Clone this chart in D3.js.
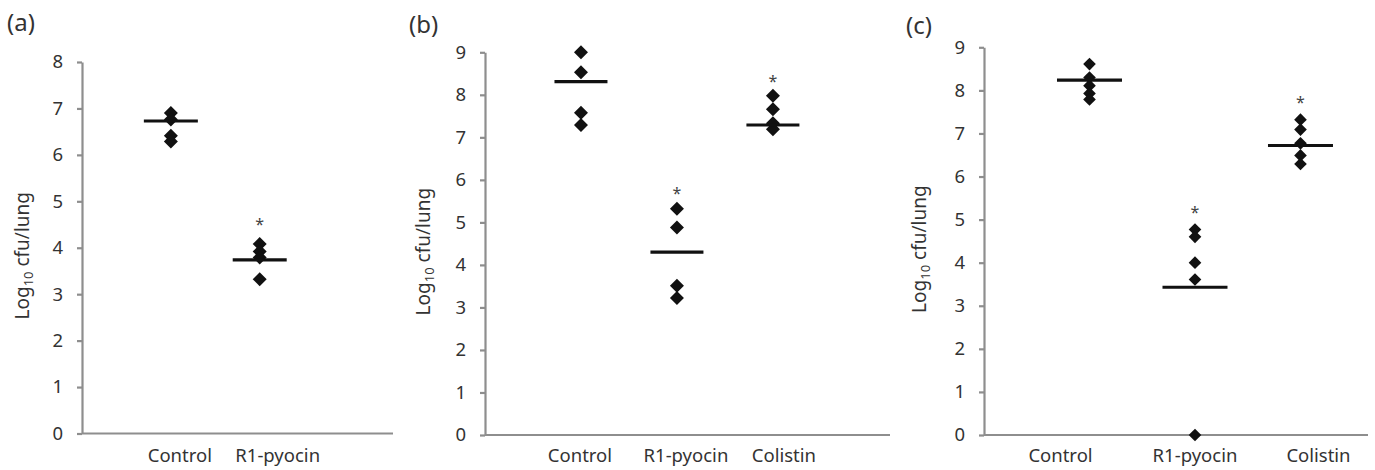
<!DOCTYPE html>
<html>
<head>
<meta charset="utf-8">
<script src="https://cdn.jsdelivr.net/npm/d3@7"></script>
<style>
  html, body { margin: 0; padding: 0; background: #fff; }
  svg text { font-family: "Noto Sans", "Open Sans", sans-serif; }
</style>
</head>
<body>
<svg id="chart" width="1375" height="470"></svg>
<script>
// ---------- DATA ----------
const panelLabels = ["(a)", "(b)", "(c)"];

const categoriesA = ["Control", "R1-pyocin"];
const pointsA = [[6.90, 6.76, 6.41, 6.29], [4.08, 3.92, 3.79, 3.32]];
const meansA = [6.73, 3.74];
const sigA = [null, 4.58];
const yTicksA = [0, 1, 2, 3, 4, 5, 6, 7, 8];

const categoriesB = ["Control", "R1-pyocin", "Colistin"];
const pointsB = [[9.00, 8.53, 7.58, 7.29], [5.32, 4.88, 3.51, 3.22], [7.98, 7.66, 7.33, 7.19]];
const meansB = [8.31, 4.30, 7.29];
const sigB = [null, 5.76, 8.39];
const yTicksB = [0, 1, 2, 3, 4, 5, 6, 7, 8, 9];

const categoriesC = ["Control", "R1-pyocin", "Colistin"];
const pointsC = [[8.61, 8.30, 8.11, 7.93, 7.79], [4.77, 4.60, 4.00, 3.61, 0], [7.32, 7.09, 6.77, 6.49, 6.29]];
const meansC = [8.24, 3.43, 6.72];
const sigC = [null, 5.24, 7.79];
const yTicksC = [0, 1, 2, 3, 4, 5, 6, 7, 8, 9];

// ---------- LAYOUT (pixels, not data) ----------
const layouts = [
  { x0: 82,  x1: 393,  yTopPx: 62,   yBotPx: 433.5, yMax: 8, xMax: 3.5,  meanHalf: 27,   diamondArea: 98,
    labelDx: [9, 18], labelPos: [7, 31], titleX: 29 },
  { x0: 485, x1: 890,  yTopPx: 52.3, yBotPx: 435,   yMax: 9, xMax: 4.22, meanHalf: 26.5, diamondArea: 98,
    labelDx: [-1, 9, 11], labelPos: [409, 33], titleX: 430 },
  { x0: 984, x1: 1368, yTopPx: 47.3, yBotPx: 435,   yMax: 9, xMax: 3.64, meanHalf: 32.5, diamondArea: 80,
    labelDx: [-29, 0, 18], labelPos: [906, 34], titleX: 926 }
];

const panels = [
  { cats: categoriesA, pts: pointsA, means: meansA, sig: sigA, ticks: yTicksA },
  { cats: categoriesB, pts: pointsB, means: meansB, sig: sigB, ticks: yTicksB },
  { cats: categoriesC, pts: pointsC, means: meansC, sig: sigC, ticks: yTicksC }
];

const svg = d3.select("#chart");
const axisColor = "#8e8e8e";
const textColor = "#333";

panels.forEach((p, pi) => {
  const L = layouts[pi];
  const g = svg.append("g");

  const y = d3.scaleLinear().domain([0, L.yMax]).range([L.yBotPx, L.yTopPx]);
  const x = d3.scaleLinear().domain([0, L.xMax]).range([L.x0, L.x1]);

  // panel label
  g.append("text")
    .attr("x", L.labelPos[0]).attr("y", L.labelPos[1])
    .attr("font-size", 24).attr("fill", textColor)
    .text(panelLabels[pi]);

  // y axis
  const yAxis = d3.axisLeft(y).tickValues(p.ticks).tickFormat(d3.format("d"))
    .tickSize(5).tickSizeOuter(0).tickPadding(14);
  const ya = g.append("g").attr("transform", `translate(${L.x0},0)`).call(yAxis);
  ya.select(".domain").attr("stroke", axisColor).attr("stroke-width", 2.2);
  ya.selectAll(".tick line").attr("stroke", axisColor).attr("stroke-width", 2.2);
  ya.selectAll(".tick text").attr("font-size", 18.5).attr("fill", textColor)
    .attr("font-family", '"Noto Sans", sans-serif');

  // x axis line
  g.append("line")
    .attr("x1", x(0)).attr("x2", x(L.xMax))
    .attr("y1", y(0)).attr("y2", y(0))
    .attr("stroke", axisColor).attr("stroke-width", 2.2);

  // y title
  const t = g.append("text")
    .attr("transform", `translate(${L.titleX},${(y(0) + y(L.yMax)) / 2 + 8}) rotate(-90)`)
    .attr("text-anchor", "middle")
    .attr("font-size", 19).attr("fill", textColor);
  t.append("tspan").text("Log");
  t.append("tspan").attr("font-size", 13).attr("dy", 4).text("10");
  t.append("tspan").attr("dy", -4).text(" cfu/lung");

  // category labels
  g.selectAll(".cat").data(p.cats).enter().append("text")
    .attr("x", (d, i) => x(i + 1) + L.labelDx[i])
    .attr("y", 462)
    .attr("text-anchor", "middle")
    .attr("font-size", 18.5).attr("fill", textColor)
    .text(d => d);

  // points
  const sym = d3.symbol(d3.symbolSquare, L.diamondArea);
  p.pts.forEach((arr, ci) => {
    g.selectAll(null).data(arr).enter().append("path")
      .attr("d", sym())
      .attr("transform", d => `translate(${x(ci + 1)},${y(d)}) rotate(45)`)
      .attr("fill", "#111");
  });

  // mean lines
  g.selectAll(".mean").data(p.means).enter().append("line")
    .attr("x1", (d, i) => x(i + 1) - L.meanHalf)
    .attr("x2", (d, i) => x(i + 1) + L.meanHalf)
    .attr("y1", d => y(d)).attr("y2", d => y(d))
    .attr("stroke", "#111").attr("stroke-width", 3.2);

  // significance asterisks
  g.selectAll(".sig").data(p.sig).enter()
    .filter(d => d !== null)
    .append("text")
    .attr("x", (d, i) => x(p.sig.indexOf(d) + 1))
    .attr("y", d => y(d) + 9)
    .attr("text-anchor", "middle")
    .attr("font-size", 16).attr("fill", "#444")
    .text("*");
});
</script>
</body>
</html>
